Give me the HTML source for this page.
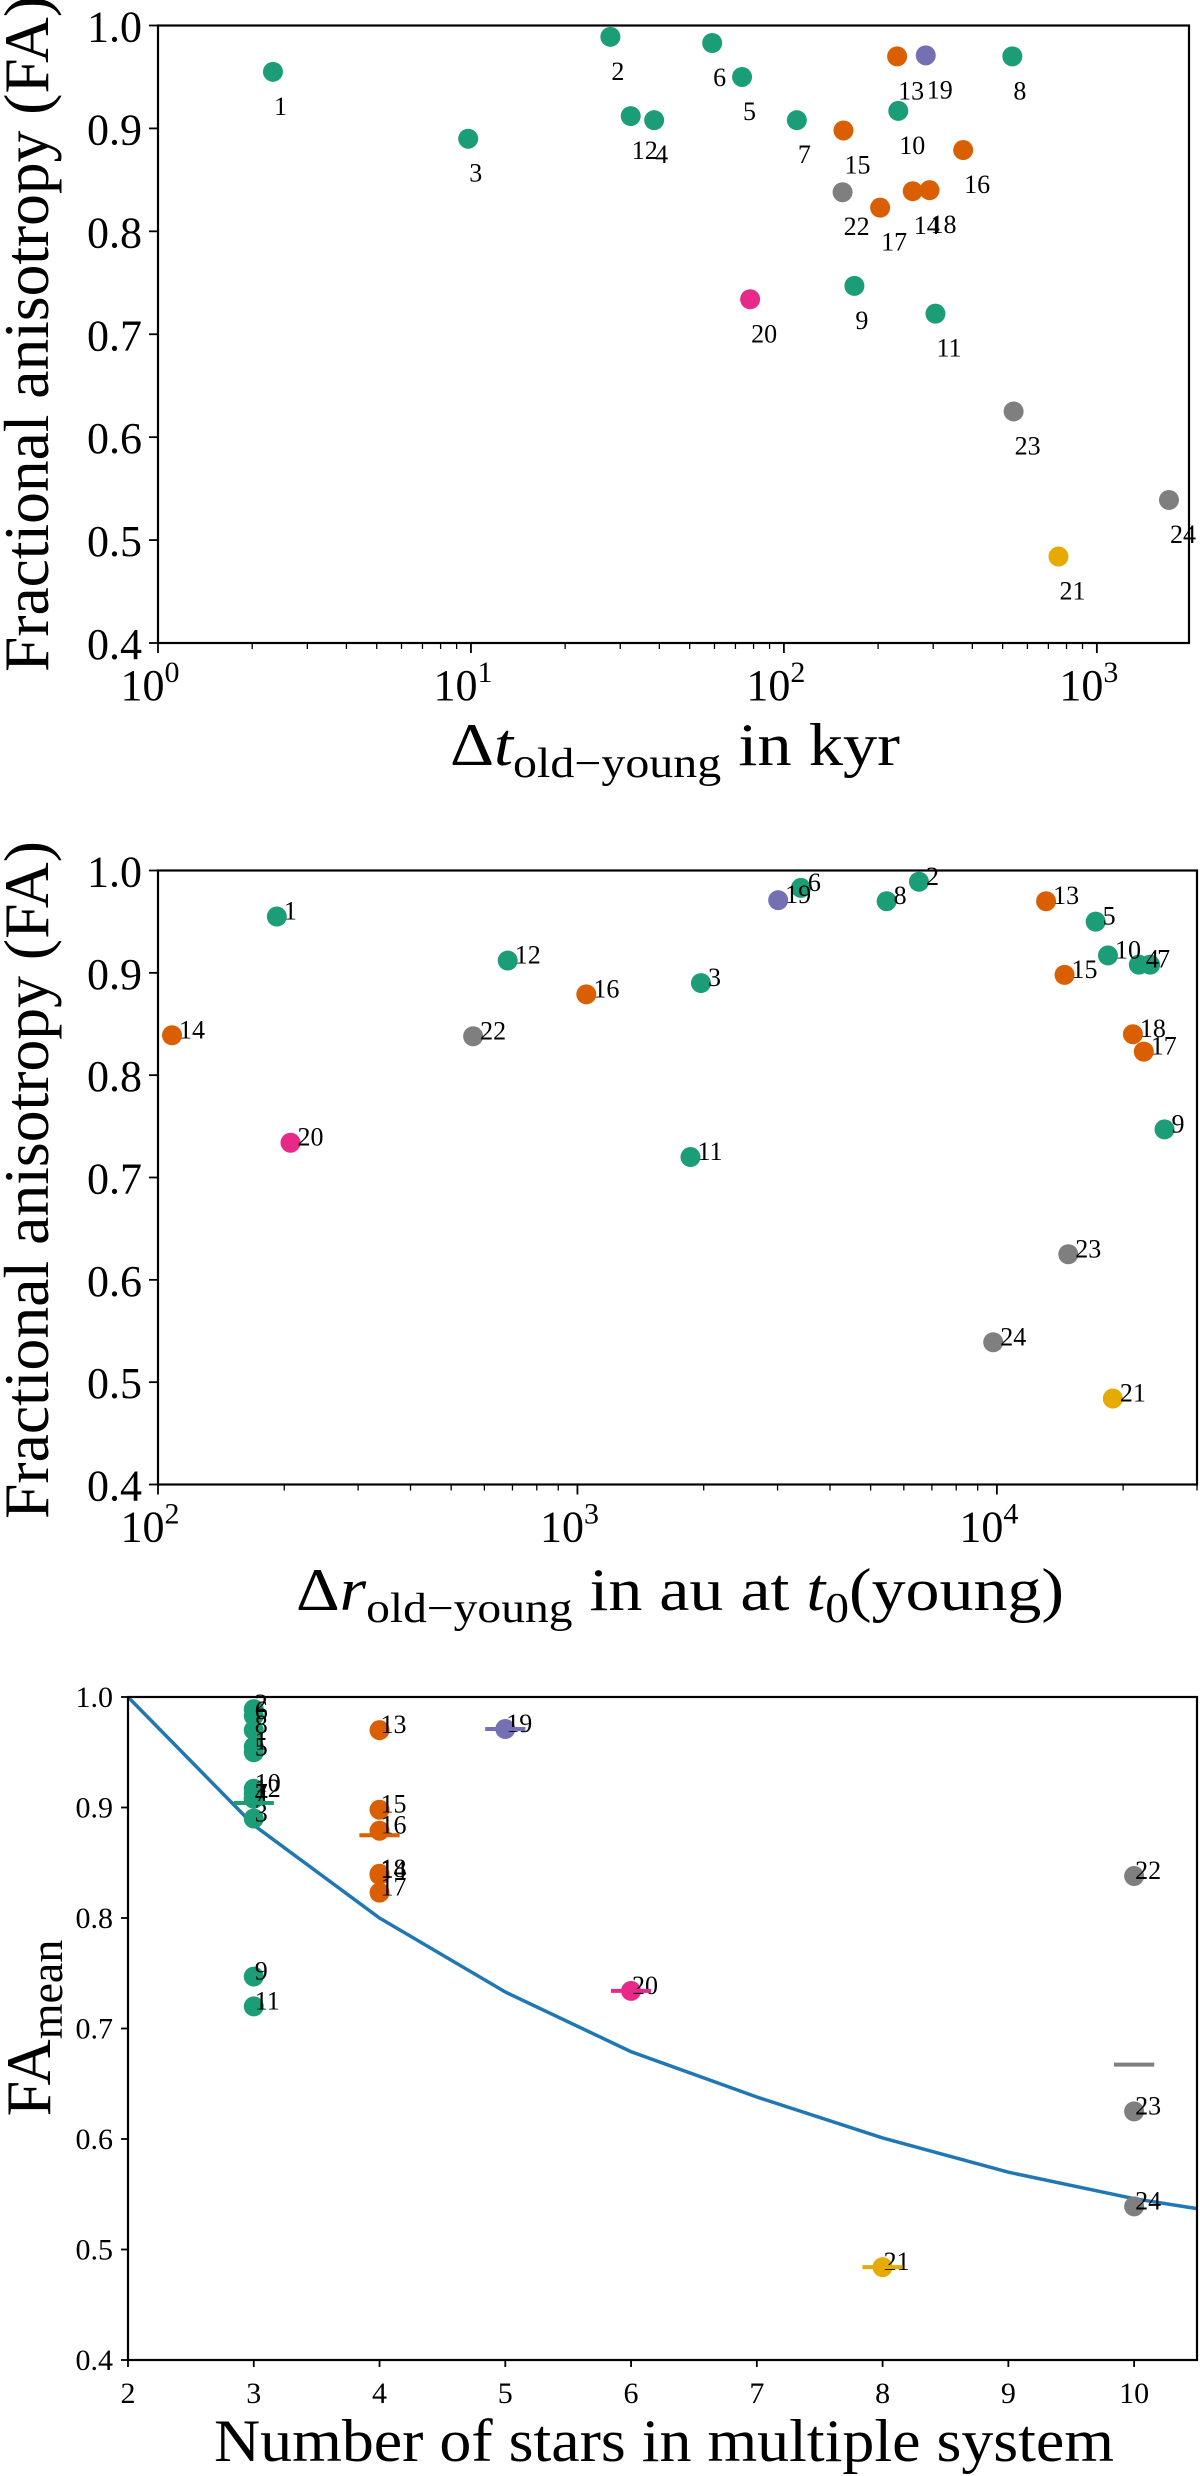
<!DOCTYPE html>
<html><head><meta charset="utf-8">
<style>
html,body{margin:0;padding:0;background:#fff;}
svg{display:block;font-family:"Liberation Serif","DejaVu Serif",serif;}
</style></head>
<body>
<svg id="fig" width="1200" height="2476" viewBox="0 0 1200 2476" xmlns="http://www.w3.org/2000/svg">
  <rect x="0" y="0" width="1200" height="2476" fill="#fff"/>
  <g id="p1"></g>
  <g id="p2"></g>
  <g id="p3"></g>
</svg>
<script>
const pointLabels = ['1','2','3','4','5','6','7','8','9','10','11','12','13','14','15','16','17','18','19','20','21','22','23','24'];
const faValues = [0.955,0.989,0.890,0.908,0.950,0.983,0.908,0.970,0.747,0.917,0.720,0.912,0.970,0.839,0.898,0.879,0.823,0.840,0.971,0.734,0.484,0.838,0.625,0.539];
const dtKyr = [2.33,27.9,9.8,38.5,73.5,59,110,537,168,232,305,32.4,230,258,155,374,203,292,284,78,754,154,542,1700];
const drAu = [192,6520,1970,21800,17200,3410,23200,5460,25100,18400,1860,682,13100,108,14500,1050,22400,21100,3010,207,18900,564,14800,9800];
const nStars = [3,3,3,3,3,3,3,3,3,3,3,3,4,4,4,4,4,4,5,6,8,10,10,10];
const groupIdx = [0,0,0,0,0,0,0,0,0,0,0,0,1,1,1,1,1,1,2,3,4,5,5,5];
const groupColors = ['#1b9e77','#d95f02','#7570b3','#e7298a','#e6ab02','#7f7f7f'];
const curveN = [2,3,4,5,6,7,8,9,10,10.5];
const curveFA = [1.0,0.884,0.800,0.733,0.679,0.638,0.601,0.570,0.546,0.537];
const faTicks = [0.4,0.5,0.6,0.7,0.8,0.9,1.0];
const faTickLabels = ['0.4','0.5','0.6','0.7','0.8','0.9','1.0'];
const nTicks = [2,3,4,5,6,7,8,9,10];

const NS='http://www.w3.org/2000/svg';
function mk(parent,tag,attrs,text){const e=document.createElementNS(NS,tag);for(const k in attrs)e.setAttribute(k,attrs[k]);if(text!==undefined)e.textContent=text;parent.appendChild(e);return e;}

function logScale(d0,d1,r0,r1){return v=>r0+(Math.log10(v)-Math.log10(d0))/(Math.log10(d1)-Math.log10(d0))*(r1-r0);}
function linScale(d0,d1,r0,r1){return v=>r0+(v-d0)/(d1-d0)*(r1-r0);}

function frame(g,L,R,T,B){
  const f=mk(g,'rect',{x:L,y:T,width:R-L,height:B-T,fill:'none',stroke:'#000','stroke-width':2.2});
  
  
}
function yAxis(g,ys,L,fs,endX,dy){
  faTicks.forEach((v,i)=>{
    const t=mk(g,'line',{x1:L-9,x2:L,y1:ys(v),y2:ys(v),stroke:'#000','stroke-width':1.8});
    
    
    const l=mk(g,'text',{x:endX,y:ys(v)+dy,'text-anchor':'end','font-size':fs},faTickLabels[i]);
    
    
  });
}
function logXAxis(g,xs,d0,d1,B,exps){
  for(let e=Math.floor(Math.log10(d0));e<=Math.ceil(Math.log10(d1));e++){
    for(let m=1;m<10;m++){
      const v=m*Math.pow(10,e);
      if(v<d0*0.999||v>d1)continue;
      const len=m===1?10:6;
      const t=mk(g,'line',{x1:xs(v),x2:xs(v),y1:B,y2:B+len,stroke:'#000','stroke-width':m===1?1.8:1.3});
      
      
    }
  }
  exps.forEach(e=>{
    const l=mk(g,'text',{x:xs(Math.pow(10,e))-8,y:B+57,'text-anchor':'middle','font-size':44},'10');
    mk(l,'tspan',{dy:-18,'font-size':30},String(e));
    
    
  });
}
function yLabel(g,cx,cy,len,text){
  const t=mk(g,'text',{x:0,y:0,'text-anchor':'middle','font-size':64,transform:`translate(${cx},${cy}) rotate(-90)`,textLength:len,lengthAdjust:'spacingAndGlyphs'},text);
  
  
}
function points(g,xsArr,xs,ys,lblDx,lblDy){
  xsArr.forEach((xv,i)=>{
    const c=mk(g,'circle',{cx:xs(xv),cy:ys(faValues[i]),r:10,fill:groupColors[groupIdx[i]]});
    
    
  });
  xsArr.forEach((xv,i)=>{
    const t=mk(g,'text',{x:xs(xv)+lblDx,y:ys(faValues[i])+lblDy,'font-size':26},pointLabels[i]);
    
    
  });
}

// Panel 1
(function(){
  const g=document.getElementById('p1');
  const L=158,R=1189,T=25.5,B=643;
  const xs=logScale(1,1970,L,R), ys=linScale(0.4,1.0,B,T);
  points(g,dtKyr,xs,ys,1,43);
  frame(g,L,R,T,B);
  yAxis(g,ys,L,44,142,16);
  logXAxis(g,xs,1,1970,B,[0,1,2,3]);
  yLabel(g,48,334,676,'Fractional anisotropy (FA)');
  const xl=mk(g,'text',{x:450,y:765,'font-size':60,textLength:450,lengthAdjust:'spacingAndGlyphs'});
  
  
  mk(xl,'tspan',{},'Δ');
  mk(xl,'tspan',{'font-style':'italic'},'t');
  mk(xl,'tspan',{'font-size':42,dy:12},'old−young');
  mk(xl,'tspan',{dy:-12},' in kyr');
})();

// Panel 2
(function(){
  const g=document.getElementById('p2');
  const L=158,R=1197,T=870.5,B=1484.5;
  const xs=logScale(100,30000,L,R), ys=linScale(0.4,1.0,B,T);
  points(g,drAu,xs,ys,7,3);
  frame(g,L,R,T,B);
  yAxis(g,ys,L,44,142,16);
  logXAxis(g,xs,100,30000,B,[2,3,4]);
  yLabel(g,48,1180,678,'Fractional anisotropy (FA)');
  const xl=mk(g,'text',{x:296,y:1610,'font-size':60,textLength:768,lengthAdjust:'spacingAndGlyphs'});
  
  
  mk(xl,'tspan',{},'Δ');
  mk(xl,'tspan',{'font-style':'italic'},'r');
  mk(xl,'tspan',{'font-size':42,dy:12},'old−young');
  mk(xl,'tspan',{dy:-12},' in au at ');
  mk(xl,'tspan',{'font-style':'italic'},'t');
  mk(xl,'tspan',{'font-size':42,dy:12},'0');
  mk(xl,'tspan',{dy:-12},'(young)');
})();

// Panel 3
(function(){
  const g=document.getElementById('p3');
  const L=128,R=1197,T=1697,B=2360;
  const xs=linScale(2,10.5,L,R), ys=linScale(0.4,1.0,B,T);
  const d=curveN.map((n,i)=>(i?'L':'M')+xs(n).toFixed(1)+','+ys(curveFA[i]).toFixed(1)).join(' ');
  const cp=mk(g,'path',{d:d,fill:'none',stroke:'#1f77b4','stroke-width':3.5});
  
  
  points(g,nStars,xs,ys,1,3);
  const groups=[...new Set(groupIdx)];
  groups.forEach(gi=>{
    const idx=groupIdx.map((v,i)=>v===gi?i:-1).filter(i=>i>=0);
    const mean=idx.reduce((s,i)=>s+faValues[i],0)/idx.length;
    const n=nStars[idx[0]];
    const ml=mk(g,'line',{x1:xs(n-0.16),x2:xs(n+0.16),y1:ys(mean),y2:ys(mean),stroke:groupColors[gi],'stroke-width':4});
    
    
  });
  frame(g,L,R,T,B);
  faTicks.forEach((v,i)=>{
    const t=mk(g,'line',{x1:L-7,x2:L,y1:ys(v),y2:ys(v),stroke:'#000','stroke-width':1.8});
    
    
    const l=mk(g,'text',{x:113,y:ys(v)+10,'text-anchor':'end','font-size':30},faTickLabels[i]);
    
    
  });
  nTicks.forEach(v=>{
    const t=mk(g,'line',{x1:xs(v),x2:xs(v),y1:B,y2:B+7,stroke:'#000','stroke-width':1.8});
    
    
    const l=mk(g,'text',{x:xs(v),y:B+43,'text-anchor':'middle','font-size':30},String(v));
    
    
  });
  const yl=mk(g,'text',{x:0,y:0,'text-anchor':'middle','font-size':64,transform:'translate(50,2028) rotate(-90)'});
  
  
  mk(yl,'tspan',{},'FA');
  mk(yl,'tspan',{'font-size':46,dy:12},'mean');
  const xl=mk(g,'text',{x:664,y:2461,'text-anchor':'middle','font-size':60,textLength:900,lengthAdjust:'spacingAndGlyphs'},'Number of stars in multiple system');
  
  
})();
</script>
</body></html>
